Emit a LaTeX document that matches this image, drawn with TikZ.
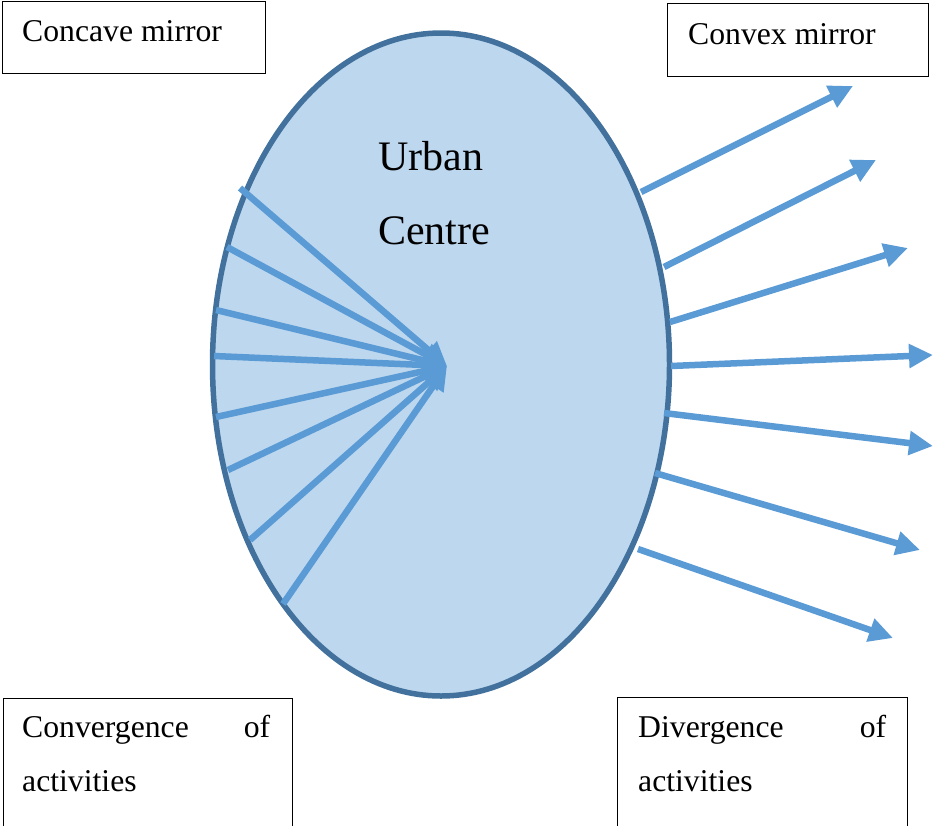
\documentclass[tikz,border=0pt]{standalone}
\usepackage{fontspec}
\setmainfont{Liberation Serif}
\usetikzlibrary{arrows.meta,shapes.geometric}
\definecolor{fillblue}{HTML}{BDD7EE}
\definecolor{edgeblue}{HTML}{41719C}
\definecolor{arrowblue}{HTML}{5B9BD5}
\begin{document}
\begin{tikzpicture}[x=1pt,y=-1pt,
  box/.style={draw=black, line width=1.4pt, rectangle, inner sep=0pt, anchor=north west},
  lbl/.style={anchor=base west, inner sep=0pt, font=\fontsize{31.7}{38}\selectfont},
  big/.style={anchor=base west, inner sep=0pt, font=\fontsize{42}{50}\selectfont},
  ray/.style={draw=arrowblue, line width=6.5pt, -{Triangle[length=24pt,width=23pt]}}]
\useasboundingbox (0,0) rectangle (933,825);

% boxes
\node[box, minimum width=263pt, minimum height=72pt] (concave) at (2,1) {};
\node[lbl] (concavet) at (22,41) {Concave mirror};
\node[box, minimum width=261pt, minimum height=73pt] (convex) at (667,3) {};
\node[lbl] (convext) at (688,44) {Convex mirror};
\node[box, minimum width=289pt, minimum height=140pt] (conv) at (3,698) {};
\node[lbl] (convt1) at (22,737) {\hbox to 248pt{Convergence\hfill of}};
\node[lbl] (convt2) at (22,791) {activities};
\node[box, minimum width=290pt, minimum height=140pt] (div) at (617,697) {};
\node[lbl] (divt1) at (638,737) {\hbox to 248pt{Divergence\hfill of}};
\node[lbl] (divt2) at (638,791) {activities};

% urban centre
\node[ellipse, draw=edgeblue, line width=5.5pt, fill=fillblue, minimum width=457pt, minimum height=663pt, inner sep=0pt] (urban) at (441,364.5) {};
\node[big] (t1) at (378,170) {Urban};
\node[big] (t2) at (378,244) {Centre};

% converging rays
\coordinate (hub) at (447,366);
\coordinate (l1) at (240,188);
\coordinate (l2) at (227,247);
\coordinate (l3) at (216,310);
\coordinate (l4) at (214,356);
\coordinate (l5) at (216,417);
\coordinate (l6) at (228,470);
\coordinate (l7) at (250,540);
\coordinate (l8) at (283,604);
\foreach \i in {1,...,8} {\draw[ray] (l\i) -- (hub);}

% diverging rays
\coordinate (s1) at (641,192); \coordinate (e1) at (853,86);
\coordinate (s2) at (664,267); \coordinate (e2) at (876,160);
\coordinate (s3) at (670,322); \coordinate (e3) at (908,248);
\coordinate (s4) at (671,366); \coordinate (e4) at (933,355);
\coordinate (s5) at (664,413); \coordinate (e5) at (933,446);
\coordinate (s6) at (655,473); \coordinate (e6) at (920,550);
\coordinate (s7) at (638,549); \coordinate (e7) at (893,638);
\foreach \i in {1,...,7} {\draw[ray] (s\i) -- (e\i);}
\end{tikzpicture}
\end{document}
